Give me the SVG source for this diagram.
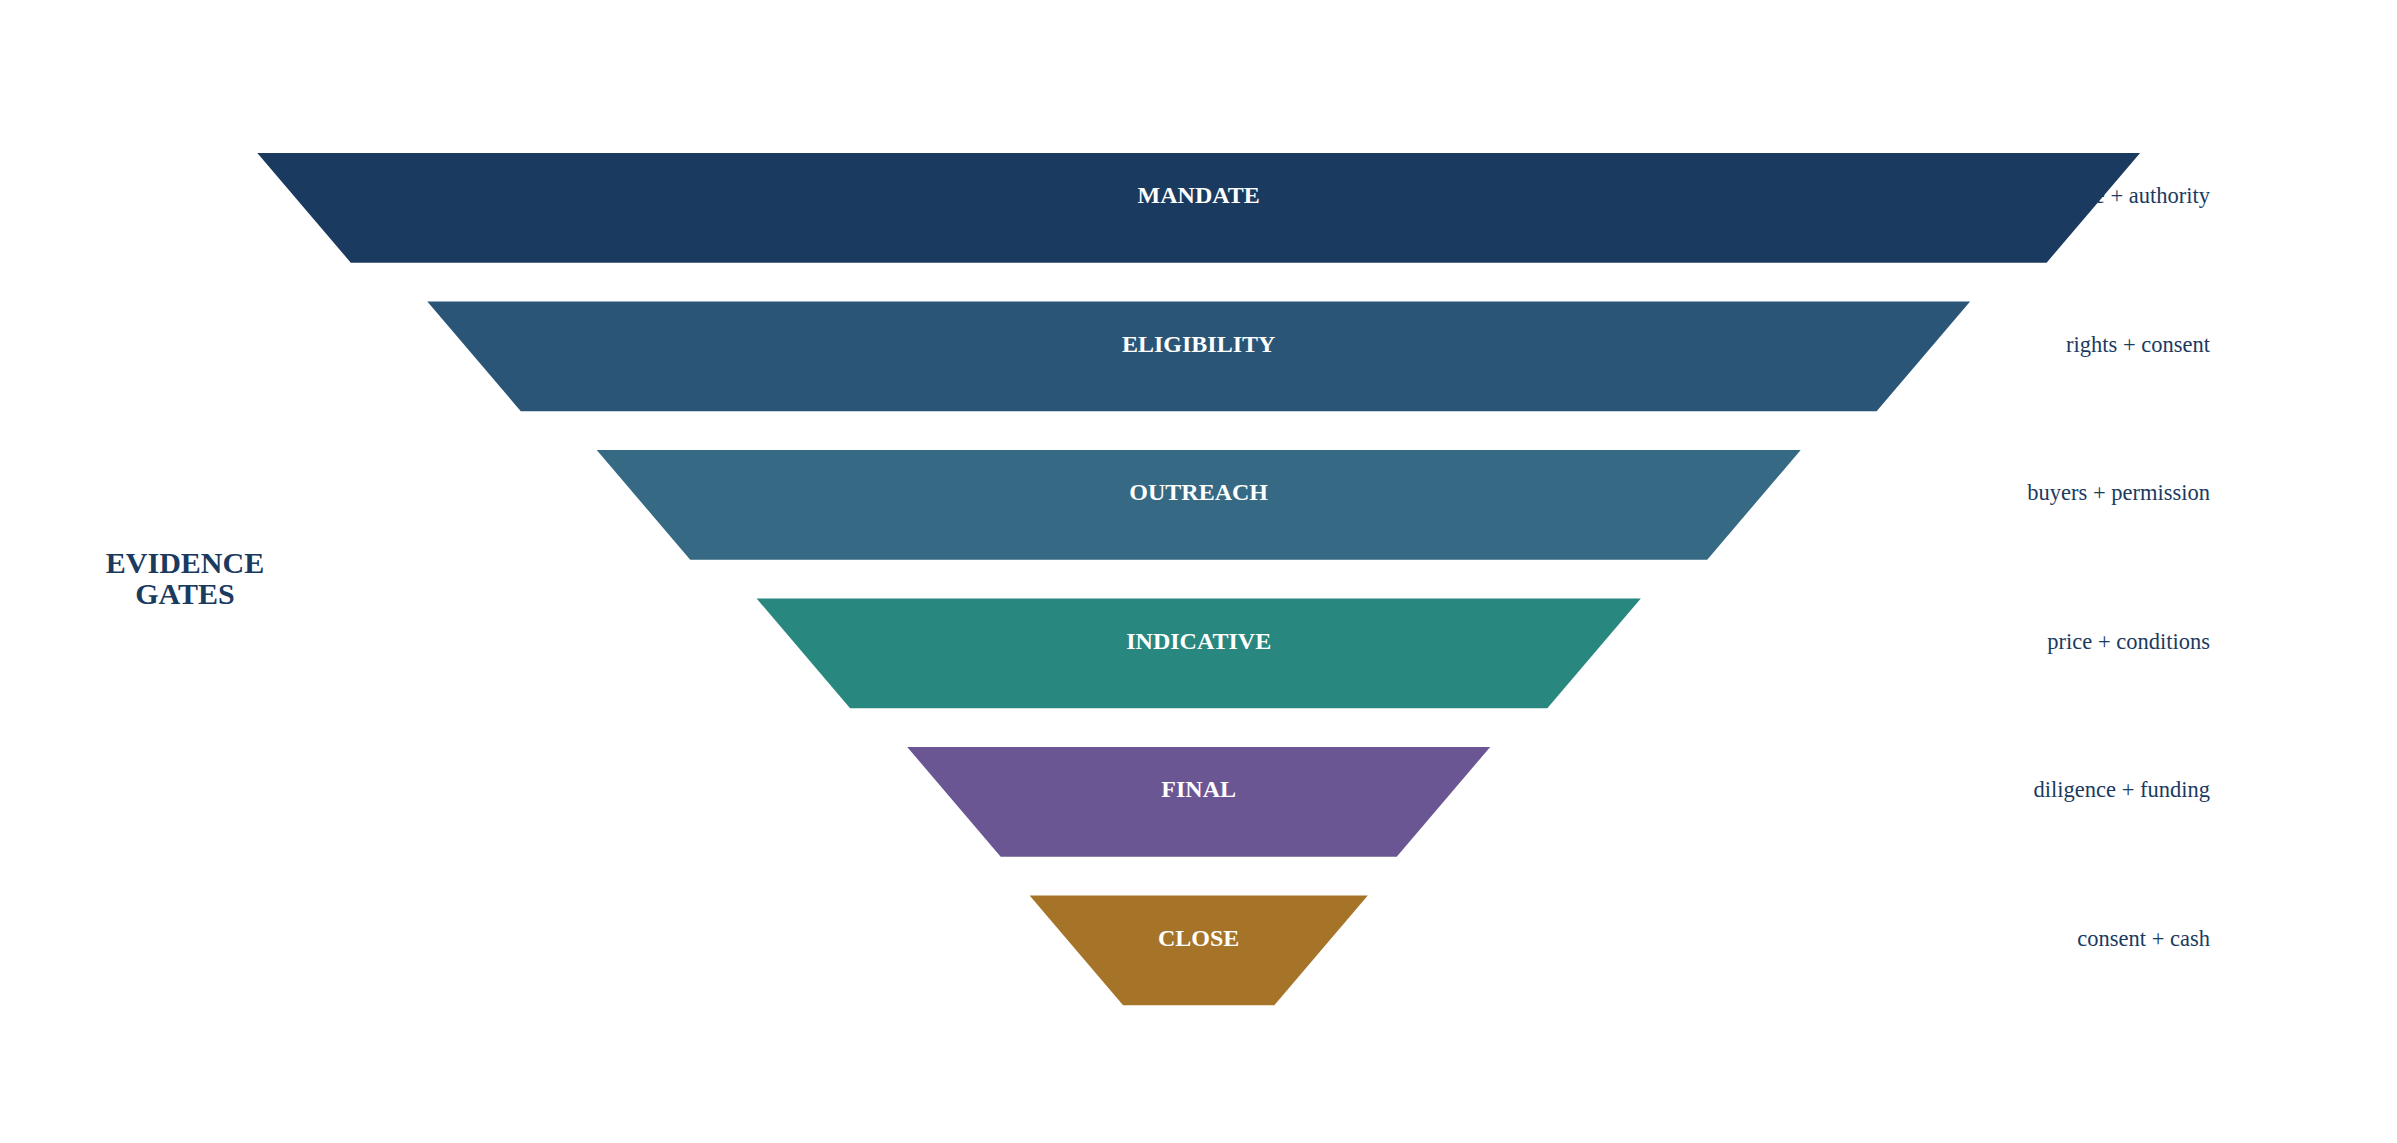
<svg xmlns="http://www.w3.org/2000/svg" width="2397" height="1143" viewBox="0 0 2397 1143">
<style>
.note{font-family:"Liberation Serif","Times New Roman",serif;font-size:22.5px;fill:#1a3a5f;text-anchor:end}
.lbl{font-family:"Liberation Serif","Times New Roman",serif;font-size:24px;font-weight:bold;fill:#ffffff;text-anchor:middle}
.title{font-family:"Liberation Serif","Times New Roman",serif;font-size:30px;font-weight:bold;fill:#1a3a5f;text-anchor:middle}
</style>
<rect width="2397" height="1143" fill="#ffffff"/>
<g id="notes">
<text class="note" x="2210" y="203">e + authority</text>
<text class="note" x="2210" y="351.5">rights + consent</text>
<text class="note" x="2210" y="500">buyers + permission</text>
<text class="note" x="2210" y="648.5">price + conditions</text>
<text class="note" x="2210" y="797">diligence + funding</text>
<text class="note" x="2210" y="945.5">consent + cash</text>
</g>
<g id="title">
<text class="title" x="185" y="573">EVIDENCE</text>
<text class="title" x="185" y="604">GATES</text>
</g>
<g id="tier-mandate">
<polygon points="257.3,153 2140.1,153 2046.6,262.7 350.8,262.7" fill="#1a3a5f"/>
<text class="lbl" x="1198.7" y="203.3">MANDATE</text>
</g>
<g id="tier-eligibility">
<polygon points="427.3,301.5 1970.1,301.5 1876.6,411.2 520.8,411.2" fill="#2a5576"/>
<text class="lbl" x="1198.7" y="351.8">ELIGIBILITY</text>
</g>
<g id="tier-outreach">
<polygon points="596.7,450 1800.7,450 1707.2,559.7 690.2,559.7" fill="#356984"/>
<text class="lbl" x="1198.7" y="500.3">OUTREACH</text>
</g>
<g id="tier-indicative">
<polygon points="756.6,598.5 1640.8,598.5 1547.3,708.2 850.1,708.2" fill="#28877e"/>
<text class="lbl" x="1198.7" y="648.8">INDICATIVE</text>
</g>
<g id="tier-final">
<polygon points="907.2,747 1490.2,747 1396.7,856.7 1000.7,856.7" fill="#6b5694"/>
<text class="lbl" x="1198.7" y="797.3">FINAL</text>
</g>
<g id="tier-close">
<polygon points="1029.6,895.5 1367.8,895.5 1274.3,1005.2 1123.1,1005.2" fill="#a67428"/>
<text class="lbl" x="1198.7" y="945.8">CLOSE</text>
</g>
</svg>
